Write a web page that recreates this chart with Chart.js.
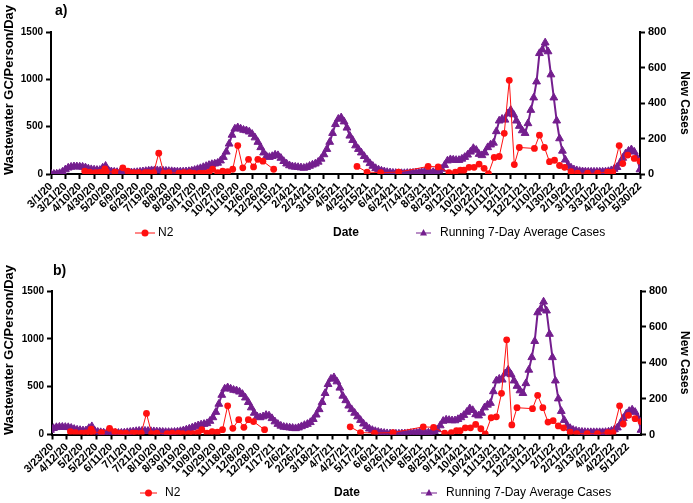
<!DOCTYPE html>
<html><head><meta charset="utf-8">
<script src="https://cdn.jsdelivr.net/npm/chart.js@4.4.0/dist/chart.umd.min.js"></script>
<style>
html,body{margin:0;padding:0;background:#fff;}
#wrap{position:relative;width:693px;height:503px;}
.panel{position:absolute;left:0;width:693px;}
</style></head><body>
<div id="wrap">
<div class="panel" style="top:0;height:251px"><canvas id="ca"></canvas></div>
<div class="panel" style="top:251px;height:252px"><canvas id="cb"></canvas></div>
</div>
<script>
// ---- data ----
const baseDate = [2020, 2, 1];          // day 0 = 3/1/20
const endDay = 820;                      // 5/30/22
const tickStepDays = 20;
const panelLabels = ['a)', 'b)'];
const panelStartDays = [0, 22];          // 3/1/20 and 3/23/20
const seriesNames = ['N2', 'Running 7-Day Average Cases'];
const xTitle = 'Date';
const yLeftTitle = 'Wastewater GC/Person/Day';
const yRightTitle = 'New Cases';
const yLeftTicks = [0, 1500, 500];
const yRightTicks = [0, 800, 200];

// running 7-day average cases, one value every 4 days from 3/1/20
const caseStepDays = 4;
const caseValues = [
0,0,1,4,12,25,35,40,42,42,41,40,36,30,26,24,22,22,35,45,
20,14,12,10,9,8,8,8,8,9,10,12,14,16,18,20,20,20,19,18,
17,16,15,14,13,13,13,14,15,18,22,27,32,38,44,50,55,58,62,75,
95,125,170,220,255,262,255,248,245,238,225,205,180,150,120,100,95,100,108,105,
90,72,58,48,42,40,38,36,34,38,45,52,58,68,85,110,140,180,230,280,
310,318,295,260,215,190,160,140,120,100,80,60,45,32,24,18,14,10,8,6,
5,4,4,4,5,5,6,7,8,10,12,10,9,10,13,18,28,50,75,82,
80,78,78,85,95,108,125,145,135,112,105,120,150,165,175,240,300,310,305,340,
360,335,300,270,245,230,285,360,430,520,680,700,740,690,560,430,300,200,130,80,
50,35,25,20,16,14,13,12,12,12,12,12,12,13,15,20,28,38,60,90,
115,130,138,125,90,25
];

// N2 wastewater samples: day offset from 3/1/20 and value (null = gap in sampling)
const n2Days = [47,54,62,68,73,75,77,89,100,107,115,122,131,136,143,150,157,164,178,185,
193,199,207,213,220,225,232,239,246,253,260,267,275,282,288,295,310,360,
426,440,459,484,525,539,554,563,570,575,582,589,596,603,609,617,624,631,638,645,
652,673,680,687,694,701,708,715,724,733,747,761,775,782,791,796,803,812,820];
const n2Values = [30,20,15,18,20,55,25,20,65,30,15,15,15,15,15,220,10,15,10,15,
15,10,10,10,20,50,15,30,25,50,300,65,155,75,155,135,50,null,
80,20,15,20,80,75,15,20,40,40,70,70,105,60,5,175,185,430,990,100,
280,270,410,280,130,145,90,70,25,10,8,10,20,20,300,110,200,165,135];

// ---- helpers ----
function dayLabel(d){
  const dt = new Date(Date.UTC(baseDate[0], baseDate[1], baseDate[2] + d));
  return (dt.getUTCMonth()+1) + '/' + dt.getUTCDate() + '/' + String(dt.getUTCFullYear()).slice(2);
}
const FONT = "'Liberation Sans', Arial, Helvetica, sans-serif";
const RED = '#ff1010';
const PURPLE = '#741e8e';

const geoms = [
  {H:251, left:51, right:640, top:32, bottom:174, legendY:233, lab:{x:55,y:11},
   leg:{l1:[135,155], t1:158, date:346, l2:[416,431], t2:440}, yTitle:{x:9, y:90}},
  {H:252, left:52, right:641, top:40, bottom:183.5, legendY:242, lab:{x:53,y:20},
   leg:{l1:[140,157], t1:165, date:347, l2:[421,437], t2:446}, yTitle:{x:9, y:99}}
];

function makeChart(id, p){
  const g = geoms[p];
  const start = panelStartDays[p];
  const overlay = {
    id:'overlay',
    afterDraw(chart){
      const c = chart.ctx;
      c.save();
      c.fillStyle = '#000';
      c.textBaseline = 'middle';
      c.font = 'bold 14px ' + FONT;
      c.textAlign = 'left';
      c.fillText(panelLabels[p], g.lab.x, g.lab.y);
      c.save();
      c.translate(g.yTitle.x, g.yTitle.y);
      c.rotate(-Math.PI/2);
      c.textAlign = 'center';
      c.font = 'bold 13px ' + FONT;
      c.fillText(yLeftTitle, 0, 0);
      c.restore();
      const y = g.legendY;
      c.lineWidth = 1;
      c.strokeStyle = RED; c.fillStyle = RED;
      c.beginPath(); c.moveTo(g.leg.l1[0], y); c.lineTo(g.leg.l1[1], y); c.stroke();
      c.beginPath(); c.arc((g.leg.l1[0]+g.leg.l1[1])/2, y, 3.5, 0, Math.PI*2); c.fill();
      c.fillStyle = '#000';
      c.font = '12px ' + FONT; c.textAlign = 'left';
      c.fillText(seriesNames[0], g.leg.t1, y);
      c.font = 'bold 12px ' + FONT; c.textAlign = 'center';
      c.fillText(xTitle, g.leg.date, y);
      c.strokeStyle = PURPLE; c.fillStyle = PURPLE;
      c.beginPath(); c.moveTo(g.leg.l2[0], y); c.lineTo(g.leg.l2[1], y); c.stroke();
      const tx = (g.leg.l2[0]+g.leg.l2[1])/2;
      c.beginPath(); c.moveTo(tx, y-4); c.lineTo(tx+3.5, y+2.5); c.lineTo(tx-3.5, y+2.5); c.closePath(); c.fill();
      c.fillStyle = '#000';
      c.font = '12px ' + FONT; c.textAlign = 'left';
      c.fillText(seriesNames[1], g.leg.t2, y);
      c.restore();
    }
  };
  const axisCommon = {
    border:{display:true, color:'#000', width:2},
    grid:{display:true, drawOnChartArea:false, drawTicks:true, tickLength:5, tickColor:'#000', tickWidth:2, color:'#000'},
  };
  return new Chart(document.getElementById(id), {
    type:'line',
    data:{datasets:[
      {label:seriesNames[0], yAxisID:'y', data:n2Days.map((d,i)=>({x:d, y:n2Values[i]})),
       borderColor:RED, backgroundColor:RED, borderWidth:1, pointStyle:'circle', pointRadius:3.4,
       pointBorderWidth:0, tension:0, spanGaps:false},
      {label:seriesNames[1], yAxisID:'y2', data:caseValues.map((v,i)=>({x:i*caseStepDays, y:v})),
       borderColor:PURPLE, backgroundColor:PURPLE, borderWidth:2, pointStyle:'triangle', pointRadius:4.5,
       pointBorderWidth:1, tension:0}
    ]},
    plugins:[overlay],
    options:{
      responsive:true, maintainAspectRatio:false, animation:false,
      layout:{padding:{left:0, right:0, top:g.top, bottom:0}},
      plugins:{legend:{display:false}, tooltip:{enabled:false}},
      scales:{
        x:{type:'linear', position:'bottom', min:start, max:endDay, ...axisCommon,
           afterBuildTicks(s){ const t=[]; for(let d=start; d<=endDay; d+=tickStepDays) t.push({value:d}); s.ticks=t; },
           afterFit(s){ s.height = g.H - g.bottom; },
           ticks:{autoSkip:false, minRotation:45, maxRotation:45, padding:1, color:'#000',
                  font:{family:FONT, size:11, weight:'bold'}, callback:(v)=>dayLabel(v)}},
        y:{type:'linear', position:'left', min:yLeftTicks[0], max:yLeftTicks[1], ...axisCommon,
           afterFit(s){ s.width = g.left; },
           ticks:{stepSize:yLeftTicks[2], padding:3, color:'#000', font:{family:FONT, size:10, weight:'bold'},
                  callback:(v)=>String(v)}},
        y2:{type:'linear', position:'right', min:yRightTicks[0], max:yRightTicks[1], ...axisCommon,
           afterFit(s){ s.width = 693 - g.right; },
           title:{display:true, text:yRightTitle, color:'#000', padding:{top:1,bottom:0}, font:{family:FONT, size:12, weight:'bold'}},
           ticks:{stepSize:yRightTicks[2], padding:3, color:'#000', font:{family:FONT, size:11, weight:'bold'},
                  callback:(v)=>String(v)}}
      }
    }
  });
}
makeChart('ca', 0);
makeChart('cb', 1);
</script>
</body></html>
